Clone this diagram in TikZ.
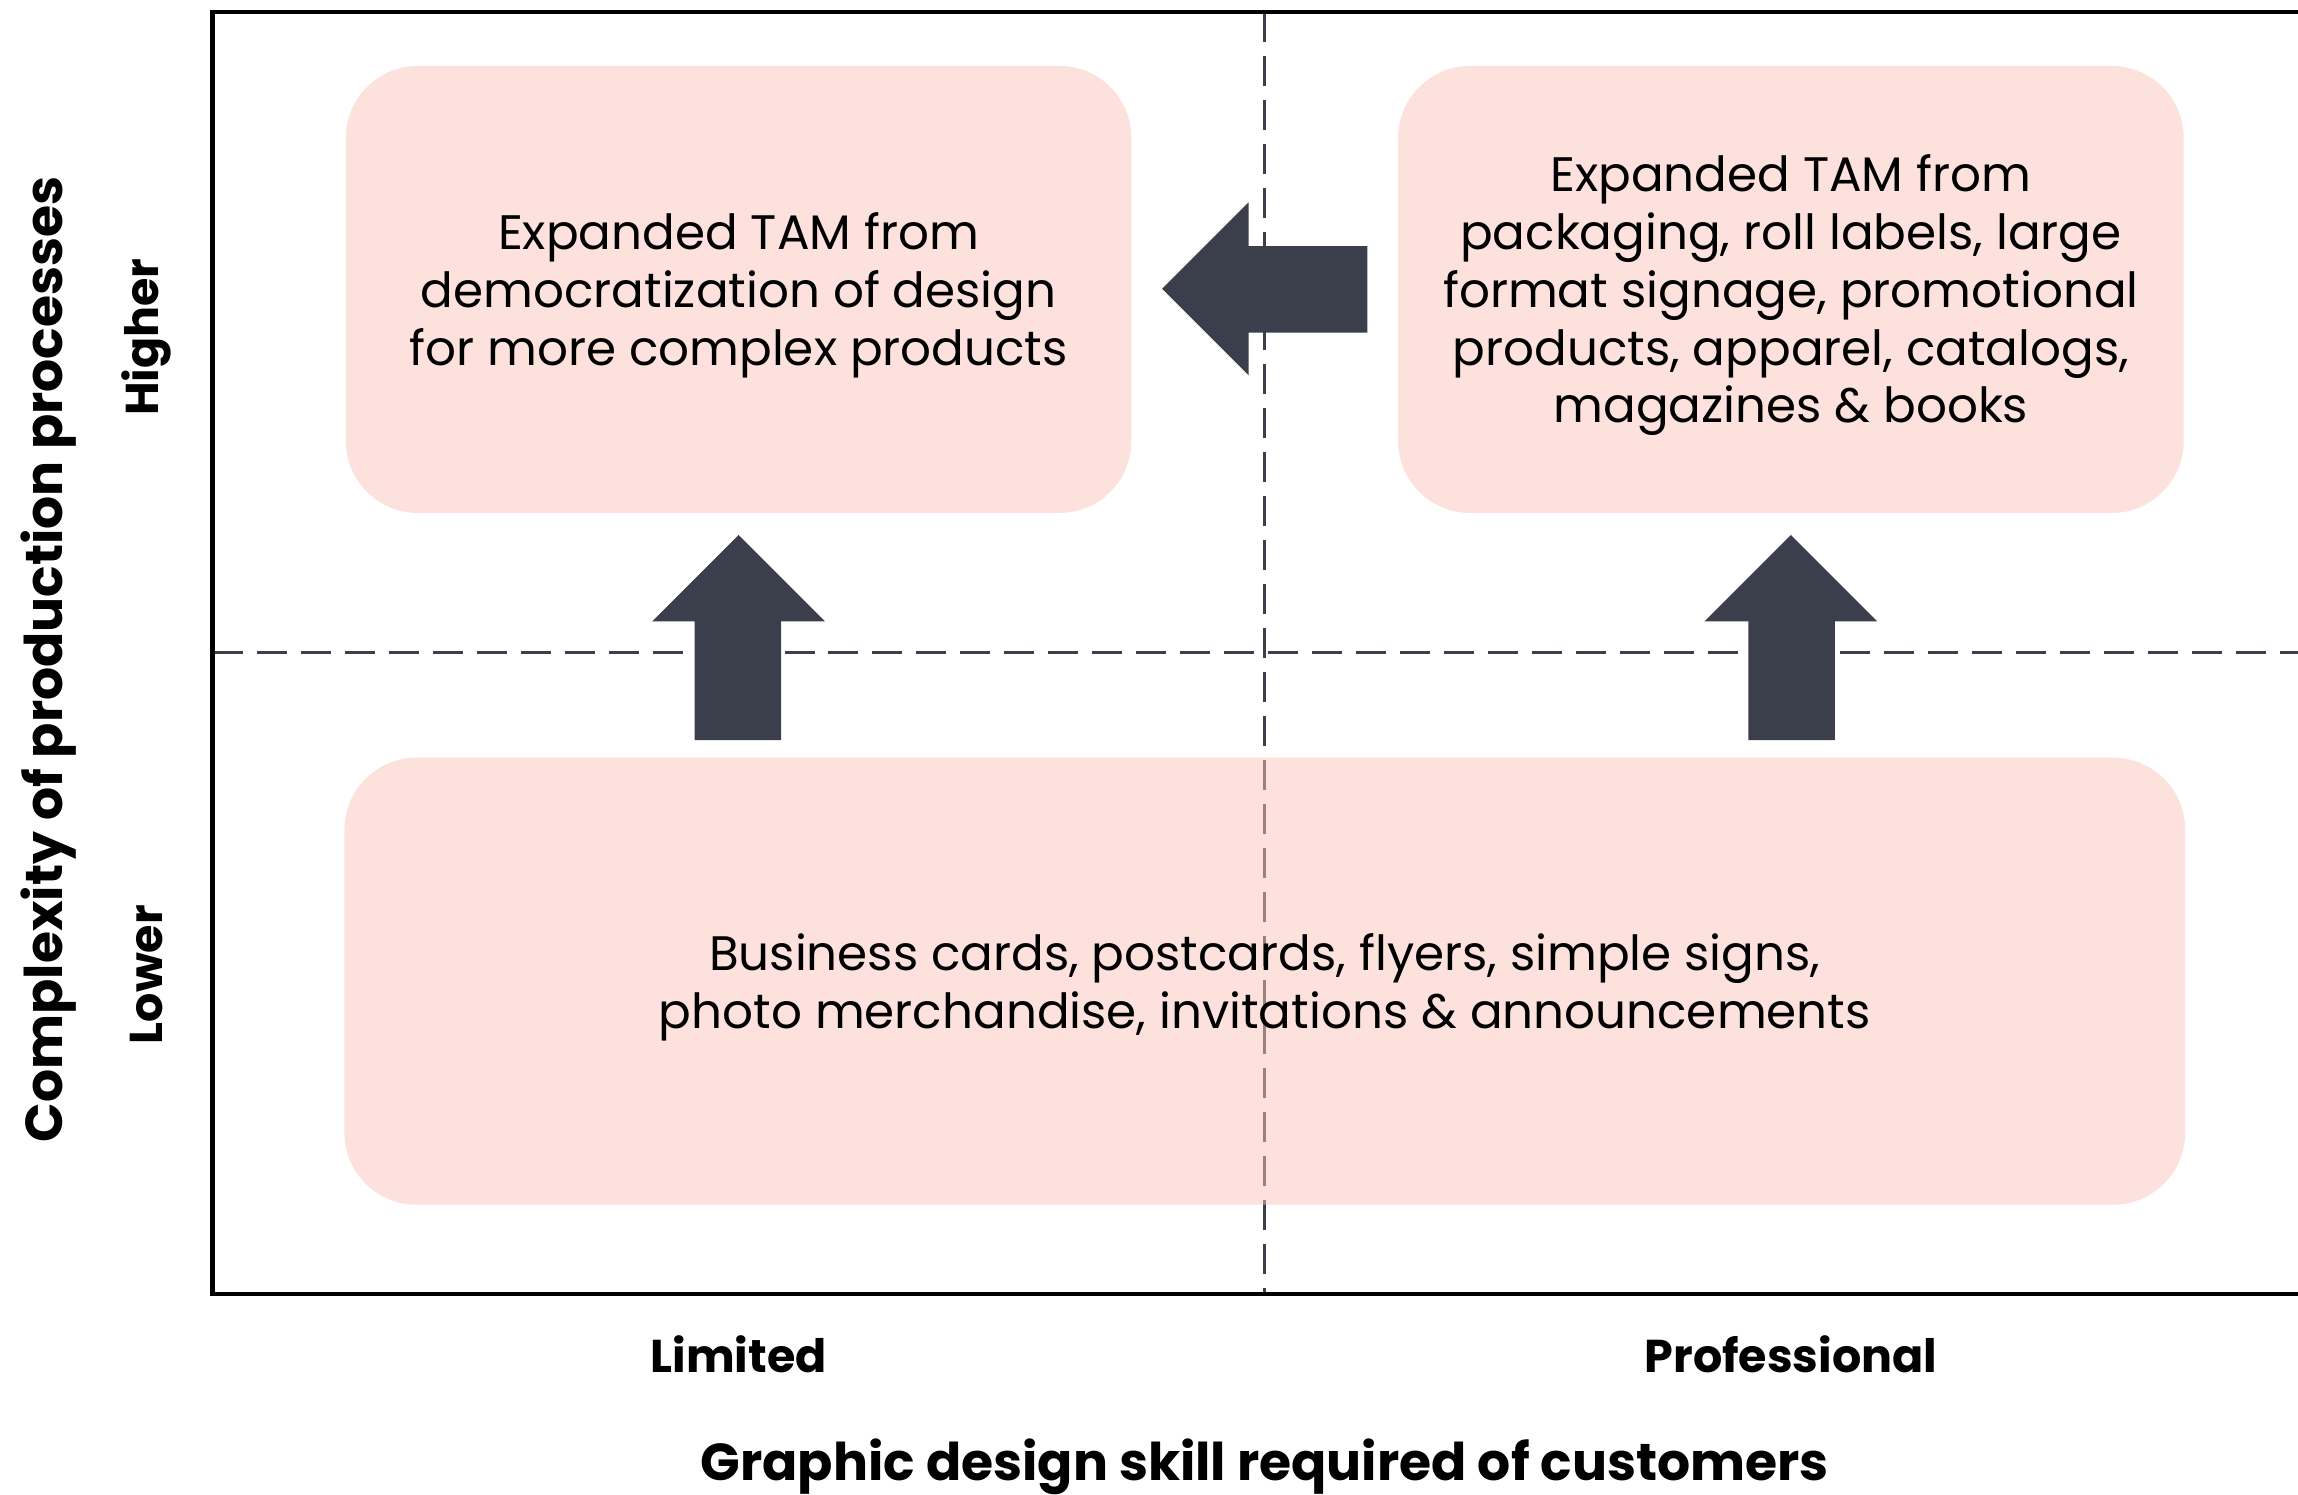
\documentclass[tikz,border=0pt]{standalone}
\usepackage{fontspec}
\setmainfont{Poppins}
\definecolor{boxpink}{HTML}{F9C3BB}
\definecolor{arrowgray}{HTML}{3A3F4B}
\begin{document}
\begin{tikzpicture}[x=0.7328pt,y=-0.7328pt,
  quadbox/.style={fill=boxpink,fill opacity=0.5,rounded corners=36pt,inner sep=0pt},
  boxtext/.style={align=center,font=\fontsize{24.2}{28.9}\selectfont,text=black,inner sep=0pt,yshift=-2.9pt},
  frameline/.style={line width=2.2pt,black},
  divline/.style={line width=1.6pt,arrowgray,dash pattern=on 15pt off 7pt},
  blockarrow/.style={fill=arrowgray,draw=none},
  ticklabel/.style={font=\fontsize{23}{27}\selectfont\bfseries},
  axislabel/.style={font=\fontsize{26}{31}\selectfont\bfseries}]
\useasboundingbox (0,0) rectangle (1568,1020);
% divider lines
\coordinate (vtop) at (863,8);
\coordinate (vbot) at (863,883);
\coordinate (hleft) at (145,445);
\coordinate (hright) at (1568,445);
\draw[divline] (vtop) -- (vbot);
\draw[divline] (hleft) -- (hright);
% frame
\coordinate (ftr) at (1568,8);
\coordinate (ftl) at (145,8);
\coordinate (fbl) at (145,883);
\coordinate (fbr) at (1568,883);
\draw[frameline] (ftr) -- (ftl) -- (fbl) -- (fbr);
% boxes
\node[quadbox,minimum width=392.8pt,minimum height=223.5pt] (tl) at (504,197.5) {};
\node[quadbox,minimum width=392.8pt,minimum height=223.5pt] (tr) at (1222,197.5) {};
\node[quadbox,minimum width=920.4pt,minimum height=223.5pt] (bot) at (863,669.5) {};
\node[boxtext] (tltext) at (tl.center)
  {Expanded TAM from\\democratization of design\\for more complex products};
\node[boxtext] (trtext) at (tr.center)
  {Expanded TAM from\\packaging, roll labels, large\\format signage, promotional\\products, apparel, catalogs,\\magazines \& books};
\node[boxtext] (bottext) at (bot.center)
  {Business cards, postcards, flyers, simple signs,\\photo merchandise, invitations \& announcements};
% block arrows
\fill[blockarrow] (474,505) -- (474,424) -- (445,424) -- (504,365) -- (563,424) -- (533,424) -- (533,505) -- cycle;
\fill[blockarrow] (1193,505) -- (1193,424) -- (1163,424) -- (1222,365) -- (1281,424) -- (1252,424) -- (1252,505) -- cycle;
\fill[blockarrow] (933,168) -- (852,168) -- (852,138) -- (793,197) -- (852,256) -- (852,227) -- (933,227) -- cycle;
% labels
\node[ticklabel,rotate=90] (higher) at (100,230) {Higher};
\node[ticklabel,rotate=90] (lower) at (100,665) {Lower};
\node[axislabel,rotate=90] (ylab) at (33,450) {Complexity of production processes};
\node[ticklabel] (limited) at (504,924) {Limited};
\node[ticklabel] (prof) at (1222,924) {Professional};
\node[axislabel] (xlab) at (863,1001) {Graphic design skill required of customers};
\end{tikzpicture}
\end{document}
